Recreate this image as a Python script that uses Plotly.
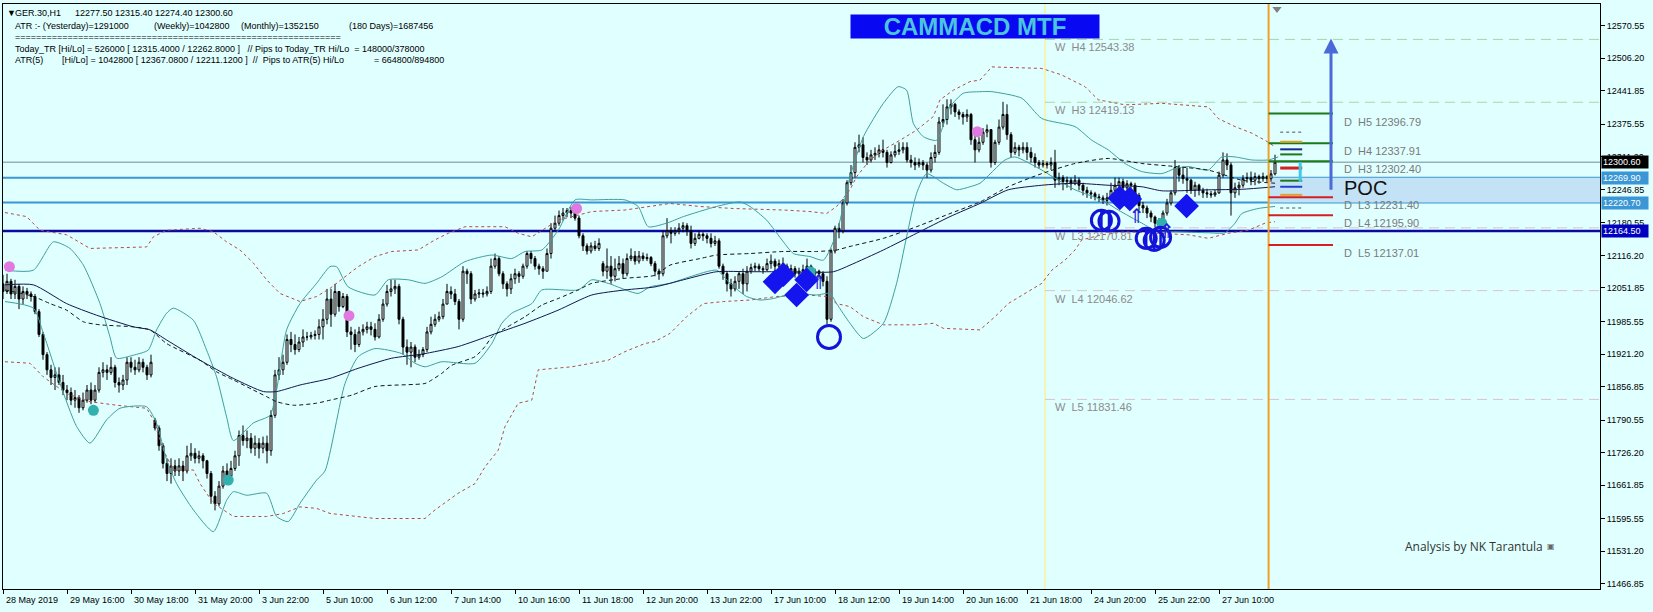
import plotly.graph_objects as go

# ---------------- data (GER.30, H1) ----------------
CLOSE = [
    12045, 12065, 12040, 12055, 12030, 12045, 12040, 12035, 12005, 11960,
    11920, 11890, 11875, 11880, 11865, 11850, 11845, 11830, 11835, 11815,
    11830, 11850, 11830, 11850, 11885, 11890, 11885, 11895, 11865, 11860,
    11870, 11905, 11895, 11890, 11905, 11895, 11880, 11905, 11775, 11740,
    11705, 11685, 11700, 11690, 11700, 11690, 11720, 11725, 11715, 11720,
    11710, 11685, 11640, 11625, 11660, 11690, 11680, 11695, 11720, 11760,
    11750, 11755, 11735, 11745, 11735, 11745, 11730, 11800, 11880, 11890,
    11905, 11950, 11940, 11930, 11945, 11955, 11955, 11958, 11960, 11975,
    11990, 12030, 12000, 12045, 12015, 12035, 11965, 11960, 11940, 11965,
    11970, 11975, 11970, 11955, 11990, 12020, 12045, 12050, 12055, 11990,
    11935, 11925, 11935, 11915, 11920, 11930, 11965, 11980, 11990, 11995,
    12020, 12045, 12040, 12025, 11990, 12085, 12080, 12030, 12040, 12042,
    12040, 12045, 12095, 12110, 12080, 12060, 12050, 12070, 12080, 12075,
    12095, 12120, 12110, 12095, 12090, 12085, 12120, 12170, 12180, 12195,
    12200, 12205, 12200, 12190, 12155, 12135, 12125, 12135, 12130, 12140,
    12085, 12095, 12075, 12090, 12100, 12080, 12110, 12115, 12105, 12115,
    12110, 12112, 12100, 12085, 12080, 12155, 12165, 12160, 12165, 12170,
    12175, 12165, 12140, 12150, 12158, 12155, 12150, 12140, 12145, 12095,
    12080, 12060, 12050, 12065, 12080, 12060, 12085, 12092, 12095, 12090,
    12088, 12100, 12105, 12095, 12100, 12095, 12085, 12090, 12080, 12085,
    12088, 12095, 12080, 12085, 12080, 12065, 11990, 12125, 12170, 12165,
    12220, 12260, 12280, 12330, 12335, 12310, 12305, 12315, 12318, 12325,
    12320, 12300, 12315, 12322, 12325, 12330, 12305, 12300, 12295, 12300,
    12295, 12285, 12310, 12320, 12380, 12385, 12410, 12415, 12400, 12395,
    12390, 12395, 12345, 12325, 12340, 12360, 12365, 12300, 12340, 12370,
    12395, 12355, 12320, 12330, 12325, 12330, 12320, 12310, 12300, 12295,
    12298, 12295, 12300, 12265, 12270, 12262, 12265, 12258, 12265, 12255,
    12245, 12240, 12238, 12232, 12230, 12225, 12230, 12245, 12255, 12262,
    12250, 12258, 12255, 12235, 12215, 12210, 12200, 12192, 12180, 12185,
    12200, 12220, 12240, 12290, 12275, 12268, 12265, 12245, 12255, 12245,
    12240, 12238, 12236, 12240, 12275, 12305, 12295, 12240, 12250, 12255,
    12268, 12270, 12265, 12272, 12268, 12272, 12268, 12277.5, 12300.6,
]
HIGH = [
    12078, 12080, 12070, 12068, 12060, 12055, 12052, 12045, 12040, 12010,
    11965, 11925, 11900, 11895, 11895, 11880, 11860, 11855, 11850, 11840,
    11845, 11860, 11865, 11860, 11895, 11905, 11900, 11915, 11900, 11875,
    11880, 11915, 11915, 11910, 11915, 11912, 11900, 11920, 11795, 11780,
    11745, 11715, 11715, 11712, 11715, 11710, 11740, 11745, 11735, 11730,
    11725, 11712, 11690, 11650, 11670, 11700, 11705, 11710, 11730, 11770,
    11780, 11770, 11765, 11760, 11755, 11758, 11760, 11810, 11890, 11915,
    11920, 11960, 11965, 11960, 11955, 11970, 11965, 11965, 11968, 11990,
    12010, 12050, 12050, 12060, 12045, 12042, 12040, 11975, 11970, 11975,
    11980, 11985, 11985, 11982, 12000, 12030, 12058, 12068, 12068, 12060,
    11995, 11950, 11945, 11940, 11930, 11935, 11975, 11995, 12000, 12005,
    12030, 12060, 12055, 12050, 12030, 12095, 12090, 12085, 12048, 12050,
    12050, 12055, 12110, 12120, 12115, 12085, 12065, 12080, 12090, 12085,
    12100, 12125, 12125, 12115, 12100, 12095, 12130, 12180, 12195, 12205,
    12210, 12210, 12212, 12212, 12195, 12160, 12140, 12142, 12145, 12150,
    12105, 12130, 12115, 12110, 12115, 12110, 12120, 12130, 12125, 12125,
    12122, 12120, 12115, 12105, 12090, 12165, 12190, 12172, 12172, 12180,
    12182, 12180, 12175, 12160, 12165, 12162, 12160, 12160, 12155, 12150,
    12100, 12085, 12070, 12075, 12085, 12090, 12095, 12100, 12102, 12100,
    12095, 12110, 12118, 12110, 12108, 12112, 12100, 12098, 12095, 12092,
    12098, 12110, 12098, 12090, 12088, 12085, 12075, 12130, 12175, 12180,
    12228, 12265, 12295, 12340, 12355, 12350, 12320, 12325, 12330, 12335,
    12345, 12325, 12322, 12335, 12340, 12340, 12340, 12315, 12310, 12308,
    12305, 12300, 12320, 12335, 12390, 12415, 12425, 12425, 12418, 12405,
    12400, 12405, 12398, 12360, 12350, 12368, 12375, 12365, 12345, 12385,
    12420, 12415, 12360, 12340, 12335, 12340, 12340, 12330, 12318, 12305,
    12305, 12302, 12310, 12325, 12280, 12275, 12272, 12270, 12275, 12270,
    12260, 12252, 12245, 12242, 12238, 12235, 12240, 12260, 12270, 12270,
    12268, 12265, 12262, 12260, 12240, 12222, 12215, 12205, 12195, 12190,
    12205, 12228, 12245, 12305, 12295, 12290, 12290, 12268, 12262, 12258,
    12250, 12248, 12244, 12246, 12282, 12320, 12318, 12300, 12260, 12262,
    12275, 12280, 12282, 12280, 12276, 12280, 12275, 12285, 12315.4,
]
LOW = [
    12030, 12040, 12030, 12030, 12010, 12020, 12030, 12025, 12000, 11955,
    11910, 11880, 11860, 11850, 11860, 11840, 11830, 11820, 11815, 11805,
    11810, 11825, 11822, 11825, 11845, 11875, 11870, 11880, 11855, 11845,
    11850, 11860, 11885, 11880, 11885, 11885, 11870, 11875, 11770, 11730,
    11695, 11670, 11665, 11680, 11680, 11670, 11685, 11710, 11705, 11705,
    11695, 11675, 11625, 11612, 11620, 11655, 11670, 11675, 11690, 11700,
    11740, 11735, 11725, 11720, 11715, 11725, 11705, 11720, 11795, 11870,
    11880, 11900, 11925, 11920, 11925, 11935, 11948, 11950, 11950, 11950,
    11950, 11980, 11975, 11995, 12005, 12012, 11955, 11930, 11925, 11935,
    11958, 11962, 11958, 11948, 11952, 11985, 12015, 12035, 12040, 11980,
    11920, 11900, 11895, 11905, 11910, 11915, 11925, 11960, 11975, 11985,
    11990, 12020, 12030, 12018, 11970, 11985, 12060, 12020, 12025, 12032,
    12033, 12035, 12040, 12090, 12075, 12050, 12035, 12040, 12060, 12062,
    12070, 12090, 12100, 12088, 12078, 12070, 12085, 12110, 12165, 12175,
    12185, 12192, 12190, 12185, 12150, 12125, 12118, 12120, 12125, 12125,
    12075, 12070, 12060, 12065, 12085, 12070, 12075, 12105, 12098, 12100,
    12105, 12105, 12095, 12075, 12068, 12075, 12150, 12140, 12155, 12158,
    12162, 12155, 12130, 12135, 12148, 12145, 12140, 12132, 12135, 12090,
    12068, 12045, 12035, 12045, 12050, 12040, 12045, 12080, 12085, 12085,
    12080, 12085, 12090, 12085, 12088, 12085, 12078, 12078, 12072, 12075,
    12080, 12082, 12072, 12070, 12070, 12055, 11980, 11985, 12120, 12150,
    12160, 12215, 12255, 12270, 12320, 12300, 12295, 12300, 12305, 12310,
    12310, 12290, 12298, 12310, 12315, 12318, 12300, 12290, 12285, 12290,
    12285, 12270, 12280, 12300, 12315, 12370, 12375, 12395, 12390, 12385,
    12375, 12380, 12335, 12300, 12320, 12335, 12350, 12290, 12295, 12335,
    12365, 12345, 12310, 12315, 12312, 12318, 12305, 12300, 12290, 12288,
    12290, 12288, 12285, 12250, 12255, 12245, 12250, 12245, 12255, 12245,
    12235, 12230, 12228, 12225, 12222, 12218, 12215, 12225, 12238, 12245,
    12240, 12245, 12240, 12225, 12205, 12200, 12190, 12182, 12172, 12170,
    12178, 12195, 12215, 12235, 12262, 12258, 12240, 12238, 12232, 12235,
    12230, 12230, 12230, 12232, 12238, 12270, 12285, 12195, 12230, 12235,
    12250, 12260, 12255, 12255, 12258, 12262, 12260, 12262, 12274.4,
]
# bars that open away from the previous close (session gaps)
GAP_BARS = [0, 38, 150]
GAP_OPENS = [12060, 11790, 12100]

X_TICK_BARS = [0, 16, 32, 48, 64, 80, 96, 112, 128, 144, 160, 176, 192, 208, 224, 240, 256, 272, 288, 304]
X_TICK_TEXT = ["28 May 2019", "29 May 16:00", "30 May 18:00", "31 May 20:00", "3 Jun 22:00",
               "5 Jun 10:00", "6 Jun 12:00", "7 Jun 14:00", "10 Jun 16:00", "11 Jun 18:00",
               "12 Jun 20:00", "13 Jun 22:00", "17 Jun 10:00", "18 Jun 12:00", "19 Jun 14:00",
               "20 Jun 16:00", "21 Jun 18:00", "24 Jun 20:00", "25 Jun 22:00", "27 Jun 10:00"]
Y_TICKS = [12570.55, 12506.20, 12441.85, 12375.55, 12311.20, 12246.85, 12180.55, 12116.20, 12051.85,
           11985.55, 11921.20, 11856.85, 11790.55, 11726.20, 11661.85, 11595.55, 11531.20, 11466.85]

# Bollinger (teal)
BB_UP_K = [0.5, 7.6, 12.6, 16.75, 20.1, 24.25, 26.75, 28.4, 32.6, 36.3, 38.4, 40.9, 42.6, 47.6, 50.9, 53.4,
           55.9, 57.6, 62.6, 66.75, 68.4, 70.9, 74.25, 78.4, 81.75, 83.4, 86.3, 93, 96.3, 101.3, 105.5, 109.7,
           115.5, 122.2, 127.2, 130.5, 134.7, 138.8, 143, 147.2, 155.5, 158.8, 161.3, 165.9, 170.1, 178.4,
           184.25, 186.75, 190.9, 195.1, 197.6, 201.75, 205.1, 208.4, 211.75, 215.1, 220.1, 223.8, 225.9,
           227.6, 230.1, 233.4, 236.75, 240.1, 244.25, 247.2, 254.7, 259.7, 268, 272.2, 276.3, 280.5, 284.7,
           289.7, 293, 296.3, 301.3, 304.7, 308, 312.2, 316.3, 318.8]
BB_UP_P = [12087, 12087, 12143, 12130, 12097, 12021, 11955, 11913, 11919, 11929, 11969, 12002, 12012, 11988,
           11929, 11876, 11797, 11750, 11785, 11800, 11850, 11969, 12021, 12061, 12094, 12094, 12054, 12038,
           12068, 12068, 12061, 12074, 12104, 12117, 12110, 12124, 12127, 12166, 12226, 12226, 12226, 12213,
           12173, 12180, 12193, 12213, 12222, 12213, 12186, 12143, 12120, 12114, 12107, 12160, 12272, 12351,
           12417, 12450, 12443, 12377, 12351, 12344, 12410, 12437, 12440, 12440, 12427, 12387, 12371, 12344,
           12325, 12298, 12282, 12278, 12288, 12292, 12285, 12311, 12311, 12305, 12305, 12311]
BB_LO_K = [0.5, 7.6, 10.1, 14.25, 18.4, 21.75, 25.9, 29.25, 35.9, 38.4, 40.9, 43.4, 47.6, 52.6, 55.9, 57.6,
           60.9, 65.9, 68.4, 71.3, 74.25, 78.4, 80.5, 85.5, 88.8, 93, 99.7, 103, 105.5, 109.7, 118, 122.2,
           124.7, 127.2, 132.2, 134.7, 143.8, 147.2, 151.3, 158.8, 161.75, 166.75, 171.75, 178.4, 181.75,
           185.9, 189.25, 192.6, 197.6, 203.4, 206.75, 208.4, 211.75, 215.1, 220.1, 223.4, 225.9, 228.4,
           230.9, 235.1, 238.4, 241.75, 244.25, 250.5, 253, 259.7, 263.8, 268, 274.7, 278.8, 284.7, 288.8,
           293, 301.3, 305.5, 308, 309.7, 313.8, 318]
BB_LO_P = [12025, 12012, 11962, 11863, 11778, 11745, 11791, 11814, 11817, 11784, 11712, 11665, 11613, 11570,
           11632, 11649, 11642, 11646, 11600, 11590, 11626, 11672, 11690, 11863, 11916, 11932, 11922, 11903,
           11896, 11906, 11903, 11942, 11982, 12002, 12021, 12048, 12048, 12068, 12061, 12041, 12054, 12061,
           12074, 12087, 12061, 12035, 12028, 12031, 12041, 12038, 12041, 12021, 11982, 11952, 11982, 12061,
           12153, 12239, 12278, 12259, 12246, 12252, 12259, 12305, 12311, 12285, 12265, 12246, 12226, 12206,
           12180, 12163, 12163, 12161, 12161, 12180, 12199, 12209, 12213]
# higher-timeframe envelope (red dotted)
RD_UP_K = [0.5, 5.9, 9.25, 15.9, 21.75, 35.9, 37.6, 40.9, 49.25, 52.6, 55.9, 59.25, 62.6, 65.9, 69.25, 74.25,
           78.4, 81.75, 85.5, 88.8, 93, 97.2, 103.8, 108, 111.3, 115.5, 125.5, 128.8, 132.2, 134.7, 138.8,
           143.8, 147.2, 155.5, 161.75, 166.75, 174.25, 182.6, 195.1, 201.75, 205.9, 208.4, 211.75, 213.4,
           216.75, 220.1, 224.25, 228.4, 232.6, 234.25, 237.6, 241.75, 244.25, 247.2, 259.7, 264.7, 270.5,
           273.8, 280.5, 289.7, 301.3, 303.8, 308, 312.2, 315.5, 318]
RD_UP_P = [12201, 12193, 12166, 12157, 12130, 12133, 12153, 12166, 12170, 12163, 12143, 12127, 12101, 12068,
           12041, 12025, 12035, 12051, 12074, 12094, 12114, 12124, 12127, 12147, 12160, 12173, 12173, 12160,
           12153, 12166, 12186, 12196, 12203, 12206, 12213, 12219, 12213, 12209, 12206, 12203, 12199, 12213,
           12246, 12272, 12305, 12325, 12344, 12364, 12391, 12424, 12443, 12460, 12463, 12489, 12486, 12473,
           12450, 12424, 12414, 12417, 12410, 12387, 12371, 12358, 12344, 12331]
RD_LO_K = [0.5, 6.75, 10.1, 15.9, 21.75, 28.4, 35.9, 37.6, 40.1, 42.6, 47.6, 49.25, 52.6, 57.6, 65.9, 70.1,
           74.25, 78.4, 81.75, 93, 105.5, 108, 113.8, 118, 120.5, 123.8, 125.5, 128.8, 132.2, 133.8, 142.2,
           151.3, 155.5, 160.5, 163, 166.75, 170.9, 175.1, 180.1, 186.75, 193.4, 200.9, 205.9, 208.4, 211.75,
           215.1, 220.1, 228.4, 232.6, 235.1, 244.25, 248, 251.3, 255.5, 259.7, 262.2, 265.5, 268, 269.7,
           274.7, 280.5, 288.8, 296.3, 301.3, 306.3, 311.3, 315.5, 318]
RD_LO_P = [11906, 11903, 11876, 11843, 11827, 11820, 11814, 11791, 11731, 11692, 11692, 11665, 11626, 11600,
           11600, 11606, 11619, 11616, 11606, 11596, 11596, 11613, 11646, 11665, 11698, 11731, 11778, 11824,
           11830, 11890, 11896, 11909, 11926, 11942, 11946, 11962, 11995, 12021, 12025, 12028, 12035, 12038,
           12035, 12021, 12015, 11995, 11979, 11979, 11982, 11972, 11969, 11995, 12021, 12041, 12061, 12087,
           12107, 12127, 12147, 12157, 12163, 12160, 12157, 12150, 12160, 12166, 12180, 12183]
# moving averages
MA_SLOW_K = [0.5, 7.6, 15.9, 23.4, 32.6, 36.75, 40.9, 49.25, 57.6, 65.1, 68.4, 74.25, 81.75, 88.8, 97.2, 104.7,
             113.8, 122.2, 130.5, 138.8, 147.2, 155.5, 163, 170.1, 178.4, 186.75, 195.1, 207.6, 211.75, 220.1,
             228.4, 236.75, 244.25, 251.3, 259.7, 268, 276.3, 284.7, 289.7, 301.3, 309.7, 318]
MA_SLOW_P = [12058, 12058, 12021, 11998, 11975, 11969, 11949, 11909, 11873, 11847, 11847, 11860, 11873, 11893,
             11913, 11921, 11936, 11959, 11982, 12008, 12038, 12048, 12054, 12068, 12084, 12084, 12084, 12084,
             12097, 12127, 12160, 12193, 12219, 12246, 12255, 12259, 12255, 12252, 12244, 12246, 12247, 12252]
MA_DASH_K = [0.5, 7.6, 11.75, 15.9, 20.1, 24.25, 32.6, 36.75, 40.9, 49.25, 53.4, 57.6, 62.6, 65.9, 68.4, 72.6,
             78.4, 81.75, 87.2, 93, 105.5, 107.2, 109.7, 112.2, 118, 120.5, 122.2, 125.5, 130.5, 134.7, 138.8,
             143.8, 147.2, 155.5, 163, 166.75, 174.25, 178.4, 186.75, 195.1, 203.4, 208.4, 211.75, 220.1, 228.4,
             236.75, 244.25, 251.3, 259.7, 268, 276.3, 284.7, 293, 301.3, 309.7, 318]
MA_DASH_P = [12048, 12035, 12021, 12008, 11985, 11979, 11975, 11969, 11942, 11909, 11886, 11870, 11850, 11837,
             11827, 11820, 11824, 11830, 11840, 11857, 11863, 11870, 11883, 11899, 11916, 11936, 11955, 11972,
             11995, 12018, 12031, 12048, 12061, 12071, 12077, 12097, 12110, 12117, 12120, 12124, 12124, 12127,
             12134, 12150, 12173, 12199, 12222, 12252, 12278, 12298, 12308, 12298, 12292, 12285, 12265, 12259]

# signal markers
PINK_K = [1.6, 86.5, 143.4, 243.6]
PINK_P = [12094, 11997, 12209, 12361]
TEALDOT_K = [22.6, 56.3, 201.8, 289.7]
TEALDOT_P = [11810, 11672, 12084, 12180]
DIAMOND_K = [193.0, 195.1, 198.4, 200.9, 279.2, 281.7, 295.9]
DIAMOND_P = [12064, 12078, 12038, 12068, 12230, 12228, 12214]
RING_K = [274.6, 276.5, 285.8, 287.8, 289.4]
RING_P = [12186, 12184, 12150, 12146, 12152]
BIG_RING_K = [206.5]
BIG_RING_P = [11955]
ARROW_K = [204.0, 283.5, 291.0]
ARROW_P = [12060, 12190, 12160]

# price lines
BID = 12300.60
ZONE_HI = 12269.90
ZONE_LO = 12220.70
SUPPORT = 12164.50
WEEK_START_BAR = 260.5
DAY_START_BAR = 316.4
W_NAMES = ["H4", "H3", "L3", "L4", "L5"]
W_LEVELS = [12543.38, 12419.13, 12170.81, 12046.62, 11831.46]
D_NAMES = ["H5", "H4", "H3", "L3", "L4", "L5"]
D_LEVELS = [12396.79, 12337.91, 12302.40, 12231.40, 12195.90, 12137.01]
TODAY_LEVELS = [12360, 12341, 12326, 12316, 12289, 12264, 12252, 12236, 12210]
TODAY_COLORS = ["#505050", "#e0a030", "#1a2a8a", "#1a7a1a", "#d42020", "#1a7a1a", "#2040d0", "#e0a030", "#505050"]
TODAY_DASH = ["dot", "solid", "solid", "solid", "solid", "solid", "solid", "solid", "dot"]
ARROW_FROM = 12243
ARROW_TO = 12545

# ---------------- figure ----------------
BG = "#e0ffff"
FONT = "Liberation Sans, Arial, sans-serif"
W, H = 1653, 612
ML, MR, MT, MB = 3, 53, 4, 23
PW, PH = W - ML - MR, H - MT - MB
XR = [0, 399.25]
YR = [11456.6, 12613.4]


def px(xp):
    return (xp - ML) / PW


def py(yp):
    return (H - MB - yp) / PH


n = len(CLOSE)
bars = list(range(n))
opens = [CLOSE[i - 1] if i > 0 else CLOSE[0] for i in bars]
for b, o in zip(GAP_BARS, GAP_OPENS):
    opens[b] = o

fig = go.Figure()
fig.add_trace(go.Candlestick(
    x=bars, open=opens, high=HIGH, low=LOW, close=CLOSE,
    increasing=dict(line=dict(color="black", width=1), fillcolor="white"),
    decreasing=dict(line=dict(color="black", width=1), fillcolor="black"),
    whiskerwidth=0, hoverinfo="skip", showlegend=False))


def line_trace(k, p, color, dash="solid", width=1, shape="spline"):
    fig.add_trace(go.Scatter(x=k, y=p, mode="lines", hoverinfo="skip", showlegend=False,
                             line=dict(color=color, width=width, dash=dash, shape=shape, smoothing=0.6)))


line_trace(RD_UP_K, RD_UP_P, "#b84848", dash="dot", shape="linear")
line_trace(RD_LO_K, RD_LO_P, "#b84848", dash="dot", shape="linear")
line_trace(BB_UP_K, BB_UP_P, "#3e9e9e")
line_trace(BB_LO_K, BB_LO_P, "#3e9e9e")
line_trace(MA_SLOW_K, MA_SLOW_P, "#141450")
line_trace(MA_DASH_K, MA_DASH_P, "#141414", dash="4px,3px")

fig.add_trace(go.Scatter(x=PINK_K, y=PINK_P, mode="markers", hoverinfo="skip", showlegend=False,
                         marker=dict(symbol="circle", size=11, color="#e07ae0")))
fig.add_trace(go.Scatter(x=TEALDOT_K, y=TEALDOT_P, mode="markers", hoverinfo="skip", showlegend=False,
                         marker=dict(symbol="circle", size=11, color="#32b0ae")))
fig.add_trace(go.Scatter(x=DIAMOND_K, y=DIAMOND_P, mode="markers", hoverinfo="skip", showlegend=False,
                         marker=dict(symbol="diamond", size=19, color="#1414ee")))
fig.add_trace(go.Scatter(x=RING_K, y=RING_P, mode="markers", hoverinfo="skip", showlegend=False,
                         marker=dict(symbol="circle-open", size=20, color="#1414d8", line=dict(width=3))))
fig.add_trace(go.Scatter(x=RING_K, y=RING_P, mode="markers", hoverinfo="skip", showlegend=False,
                         marker=dict(symbol="line-ns-open", size=16, color="#1414d8", line=dict(width=2.5))))
fig.add_trace(go.Scatter(x=BIG_RING_K, y=BIG_RING_P, mode="markers", hoverinfo="skip", showlegend=False,
                         marker=dict(symbol="circle-open", size=23, color="#1414d8", line=dict(width=3))))
fig.add_trace(go.Scatter(x=ARROW_K, y=ARROW_P, mode="text", text=["⇑"] * len(ARROW_K), hoverinfo="skip",
                         showlegend=False, textfont=dict(family="DejaVu Sans", size=20, color="#2020d8")))
# chart-shift marker
fig.add_trace(go.Scatter(x=[n - 0.5], y=[YR[1] - 10], mode="markers", hoverinfo="skip", showlegend=False,
                         cliponaxis=False, marker=dict(symbol="triangle-down", size=8, color="#808080")))

shapes = []
# POC zone (today)
shapes.append(dict(type="rect", xref="x", yref="y", x0=DAY_START_BAR, x1=XR[1], y0=ZONE_LO, y1=ZONE_HI,
                   fillcolor="#c4e2f5", line=dict(width=0), layer="below"))
# vertical separators
shapes.append(dict(type="line", xref="x", yref="paper", x0=WEEK_START_BAR, x1=WEEK_START_BAR, y0=0, y1=1,
                   line=dict(color="#f4f4b4", width=2), layer="below"))
shapes.append(dict(type="line", xref="x", yref="paper", x0=DAY_START_BAR, x1=DAY_START_BAR, y0=0, y1=1,
                   line=dict(color="#f0a028", width=2), layer="above"))
# weekly pivots
for name, lvl in zip(W_NAMES, W_LEVELS):
    col = "#a8d8a0" if name.startswith("H") else "#dcc4cc"
    shapes.append(dict(type="line", xref="x", yref="y", x0=WEEK_START_BAR, x1=XR[1], y0=lvl, y1=lvl,
                       line=dict(color=col, width=1, dash="10px,6px"), layer="below"))
# full-width price lines
for lvl, col, wd in [(BID, "#6e8e9a", 1), (ZONE_HI, "#3a96d4", 2), (ZONE_LO, "#3a96d4", 2), (SUPPORT, "#0a0aa0", 2.5)]:
    shapes.append(dict(type="line", xref="paper", yref="y", x0=0, x1=1, y0=lvl, y1=lvl,
                       line=dict(color=col, width=wd), layer="below"))
# daily pivots
for name, lvl in zip(D_NAMES, D_LEVELS):
    col = "#1a7a1a" if name.startswith("H") else "#d42020"
    shapes.append(dict(type="line", xref="x", yref="y", x0=DAY_START_BAR, x1=332.5, y0=lvl, y1=lvl,
                       line=dict(color=col, width=2)))
# today's small level marks
for lvl, col, ds in zip(TODAY_LEVELS, TODAY_COLORS, TODAY_DASH):
    wd = 3 if col == "#d42020" else (1 if ds == "dot" else 2)
    shapes.append(dict(type="line", xref="x", yref="y", x0=319.3, x1=324.8, y0=lvl, y1=lvl,
                       line=dict(color=col, width=wd, dash=ds)))
shapes.append(dict(type="line", xref="x", yref="y", x0=324.3, x1=324.3, y0=12262, y1=12301,
                   line=dict(color="#40c8e8", width=3)))

ann = []
# big arrow
ann.append(dict(x=332, y=ARROW_TO, ax=332, ay=ARROW_FROM, xref="x", yref="y", axref="x", ayref="y",
                text="", showarrow=True, arrowhead=2, arrowsize=1, arrowwidth=3, arrowcolor="#4a6ad8"))
NB = "\u00a0"
for name, lvl in zip(W_NAMES, W_LEVELS):
    ann.append(dict(x=262.5, y=lvl, xref="x", yref="y", xanchor="left", yanchor="top", showarrow=False,
                    text=f"W{NB}{NB}{name}{NB}{lvl:.2f}", font=dict(family=FONT, size=11, color="#8a8a8a")))
for name, lvl in zip(D_NAMES, D_LEVELS):
    ann.append(dict(x=334.8, y=lvl, xref="x", yref="y", xanchor="left", yanchor="top", showarrow=False,
                    text=f"D{NB}{NB}{name}{NB}{lvl:.2f}", font=dict(family=FONT, size=11, color="#7a7a7a")))
ann.append(dict(x=334.8, y=(ZONE_HI + ZONE_LO) / 2 + 5, xref="x", yref="y", xanchor="left", yanchor="middle",
                showarrow=False, text="POC", font=dict(family=FONT, size=20, color="#111111")))
# x labels
for b, t in zip(X_TICK_BARS, X_TICK_TEXT):
    ann.append(dict(x=b, y=0, xref="x", yref="paper", xanchor="left", yanchor="top", yshift=-4, xshift=1,
                    showarrow=False, text=t, font=dict(family=FONT, size=9, color="#000000")))
# price boxes on axis
for lvl, col in [(BID, "#000000"), (ZONE_HI, "#3a96d4"), (ZONE_LO, "#3a96d4"), (SUPPORT, "#0000c0")]:
    ann.append(dict(x=1, y=lvl, xref="paper", yref="y", xanchor="left", yanchor="middle", xshift=1,
                    showarrow=False, text=f"{lvl:.2f}", bgcolor=col, borderpad=1, width=44, align="left",
                    font=dict(family=FONT, size=9, color="#ffffff")))
# title box
ann.append(dict(x=px(975), y=py(26.5), xref="paper", yref="paper", xanchor="center", yanchor="middle",
                showarrow=False, text="<b>CAMMACD MTF</b>", bgcolor="#0808f2", width=248, height=23, borderpad=0,
                font=dict(family=FONT, size=24, color="#4cc4de")))
# info text (top-left)
SP3 = NB * 3
INFO = [
    (5, 13.3, "▼"), (13, 13.3, "GER.30,H1"), (73, 13.3, "12277.50 12315.40 12274.40 12300.60"),
    (13, 26, "ATR :- (Yesterday)=1291000"), (152, 26, "(Weekly)=1042800"), (239, 26, "(Monthly)=1352150"),
    (347, 26, "(180 Days)=1687456"),
    (13, 36.7, "=" * 62),
    (13, 49.3, "Today_TR [Hi/Lo] = 526000 [ 12315.4000 / 12262.8000 ]" + SP3 + "// Pips to Today_TR Hi/Lo"
     + NB * 2 + "= 148000/378000"),
    (13, 60, "ATR(5)"),
    (60, 60, "[Hi/Lo] = 1042800 [ 12367.0800 / 12211.1200 ]" + NB * 2 + "//" + NB * 2 + "Pips to ATR(5) Hi/Lo"),
    (372, 60, "= 664800/894800"),
]
for xp_, yp_, t in INFO:
    ann.append(dict(x=px(xp_), y=py(yp_), xref="paper", yref="paper", xanchor="left", yanchor="middle",
                    showarrow=False, text=t, font=dict(family=FONT, size=9, color="#000000")))
ann.append(dict(x=px(1403), y=py(546), xref="paper", yref="paper", xanchor="left", yanchor="middle",
                showarrow=False, text="Analysis by NK Tarantula", font=dict(family="Open Sans", size=12, color="#333333")))
ann.append(dict(x=px(1551), y=py(546), xref="paper", yref="paper", xanchor="center", yanchor="middle",
                showarrow=False, text="▣", font=dict(family="DejaVu Sans", size=8, color="#666666")))

fig.update_layout(
    width=W, height=H, margin=dict(l=ML, r=MR, t=MT, b=MB),
    paper_bgcolor=BG, plot_bgcolor=BG, showlegend=False,
    shapes=shapes, annotations=ann,
    font=dict(family=FONT, size=9, color="#000000"),
    xaxis=dict(range=XR, showgrid=False, zeroline=False, tickvals=X_TICK_BARS, ticks="outside", ticklen=4,
               tickcolor="black", showticklabels=False, showline=True, linecolor="black", linewidth=1,
               mirror=True, rangeslider=dict(visible=False), fixedrange=True),
    yaxis=dict(range=YR, side="right", showgrid=False, zeroline=False, tickvals=Y_TICKS,
               ticktext=[f"{v:.2f}" for v in Y_TICKS], ticks="outside", ticklen=4, tickcolor="black",
               tickfont=dict(family=FONT, size=9, color="#000000"), showline=True, linecolor="black",
               linewidth=1, mirror=True, fixedrange=True),
)
fig.write_html("out.html", config={"displayModeBar": False},
               post_script="document.body.style.margin='0px';document.body.style.overflow='hidden';")
